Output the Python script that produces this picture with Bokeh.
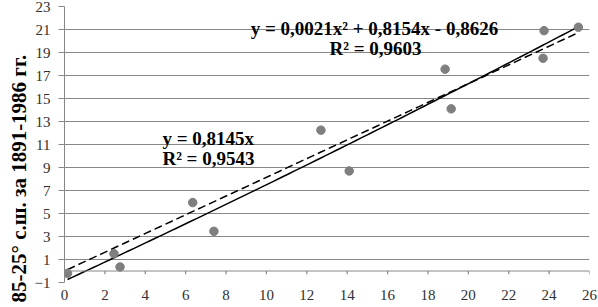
import numpy as np
from bokeh.plotting import figure
from bokeh.models import Range1d, FixedTicker, Label, Span, Title
from bokeh.embed import file_html
from bokeh.resources import INLINE

# data
x_vals = [0.15, 2.45, 2.75, 6.35, 7.4, 12.7, 14.1, 18.85, 19.15, 23.75, 23.7, 25.45]
y_vals = [-0.2, 1.5, 0.35, 5.95, 3.45, 12.25, 8.7, 17.55, 14.1, 20.9, 18.5, 21.2]

# trendline coefficients (from the chart's equations)
lin_slope = 0.8145
poly_a, poly_b, poly_c = 0.0021, 0.8154, -0.8626

x_ticks = list(range(0, 27, 2))
y_ticks = list(range(-1, 24, 2))

eq_poly = "y = 0,0021x² + 0,8154x - 0,8626"
r2_poly = "R² = 0,9603"
eq_lin = "y = 0,8145x"
r2_lin = "R² = 0,9543"
y_title = "85-25° с.ш.  за 1891-1986 гг."

FONT = "Liberation Serif"
GRID = "#878787"

p = figure(frame_width=525, frame_height=276, output_backend="svg", toolbar_location=None,
           x_range=Range1d(0, 26), y_range=Range1d(-1, 23),
           min_border_left=64, min_border_right=9, min_border_top=6, min_border_bottom=2)
p.outline_line_color = None
p.background_fill_color = "white"

# grid
p.xgrid.visible = False
p.ygrid.ticker = FixedTicker(ticks=y_ticks)
p.ygrid.grid_line_color = GRID
p.ygrid.grid_line_width = 1

# y axis
ya = p.yaxis[0]
ya.ticker = FixedTicker(ticks=y_ticks)
ya.axis_line_color = GRID
ya.major_tick_line_color = GRID
ya.major_tick_out = 6
ya.major_tick_in = 0
ya.minor_tick_line_color = None
ya.major_label_text_font = FONT
ya.major_label_text_font_size = "15px"
ya.major_label_text_color = "#303030"
ya.major_label_standoff = 8

# bottom x axis: labels only
xa = p.xaxis[0]
xa.ticker = FixedTicker(ticks=x_ticks)
xa.axis_line_color = None
xa.major_tick_line_color = None
xa.minor_tick_line_color = None
xa.major_label_text_font = FONT
xa.major_label_text_font_size = "15px"
xa.major_label_text_color = "#303030"
xa.major_label_standoff = 1

# horizontal axis line crossing at y = 0, with downward ticks
p.add_layout(Span(location=0, dimension="width", line_color=GRID, line_width=1.2))
p.segment(x0=x_ticks, y0=[0] * len(x_ticks), x1=x_ticks, y1=[-0.28] * len(x_ticks),
          line_color=GRID, line_width=1.2)

# trend lines
xs = np.linspace(min(x_vals), max(x_vals), 100)
p.line(xs, lin_slope * xs, line_color="black", line_width=1.5, line_dash="8 4")
p.line(xs, poly_a * xs**2 + poly_b * xs + poly_c, line_color="black", line_width=1.5)

# points
p.scatter(x_vals, y_vals, size=8.5, fill_color="#7f7f7f", line_color="#7f7f7f")

# equation labels
lab_kw = dict(text_font=FONT, text_font_style="bold", text_font_size="19px", text_color="black")
p.add_layout(Label(x=15.35, y=21.1, text=eq_poly, text_align="center", text_baseline="middle", **lab_kw))
p.add_layout(Label(x=15.4, y=19.35, text=r2_poly, text_align="center", text_baseline="middle", **lab_kw))
p.add_layout(Label(x=4.85, y=11.55, text=eq_lin, text_align="left", text_baseline="middle", **lab_kw))
p.add_layout(Label(x=4.85, y=9.8, text=r2_lin, text_align="left", text_baseline="middle", **lab_kw))

# y axis title
p.add_layout(Title(text=y_title, align="left", offset=-20, standoff=2,
                   text_font=FONT, text_font_style="bold", text_font_size="21px",
                   text_color="black"), "left")

open("out.html", "w").write(file_html(p, INLINE))
